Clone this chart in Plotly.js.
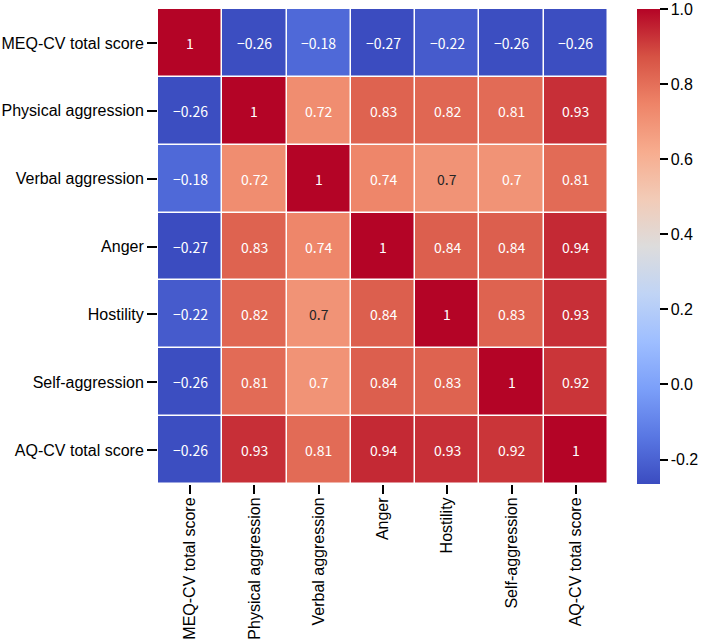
<!DOCTYPE html>
<html>
<head>
<meta charset="utf-8">
<script src="https://cdn.plot.ly/plotly-3.0.1.min.js"></script>
<style>html,body{margin:0;padding:0;background:#fff;}#chart{width:708px;height:642px;}</style>
</head>
<body>
<div id="chart"></div>
<script>
const labels = ["MEQ-CV total score","Physical aggression","Verbal aggression","Anger","Hostility","Self-aggression","AQ-CV total score"];
const row0 = [1, -0.26, -0.18, -0.27, -0.22, -0.26, -0.26];
const row1 = [-0.26, 1, 0.72, 0.83, 0.82, 0.81, 0.93];
const row2 = [-0.18, 0.72, 1, 0.74, 0.70, 0.70, 0.81];
const row3 = [-0.27, 0.83, 0.74, 1, 0.84, 0.84, 0.94];
const row4 = [-0.22, 0.82, 0.70, 0.84, 1, 0.83, 0.93];
const row5 = [-0.26, 0.81, 0.70, 0.84, 0.83, 1, 0.92];
const row6 = [-0.26, 0.93, 0.81, 0.94, 0.93, 0.92, 1];
const z = [row0,row1,row2,row3,row4,row5,row6];
// cells whose annotation is drawn in dark text (lightest cells)
const darkCells = [[2,4],[4,2]];

const coolwarm = ["#3b4cc0","#5977e3","#7b9ff9","#9ebeff","#c0d4f5","#dddcdc","#f2cbb7","#f7ac8e","#ee8468","#d65244","#b40426"];
const cs = coolwarm.map((c,i)=>[i/(coolwarm.length-1), c]);

function fmt(v){
  let s = String(Math.round(v*100)/100);
  return s.replace("-", "\u2212");
}
const annotations = [];
for (let i=0;i<labels.length;i++){
  for (let j=0;j<labels.length;j++){
    const dark = darkCells.some(d=>d[0]===i&&d[1]===j);
    annotations.push({x:labels[j], y:labels[i], text:fmt(z[i][j]), showarrow:false,
      font:{family:"Noto Sans CJK SC, sans-serif", size:14, color: dark ? "#262626" : "#ffffff"}});
  }
}

const trace = {
  type:"heatmap", z:z, x:labels, y:labels, colorscale:cs, zmin:-0.265, zmax:1.0,
  xgap:1.5, ygap:1.5, hoverinfo:"none",
  colorbar:{x:1.0655, xanchor:"left", xref:"paper", xpad:0, ypad:0, y:0.5, yanchor:"middle", len:1, lenmode:"fraction",
    thickness:23, outlinewidth:0, ticks:"outside", ticklen:8, tickwidth:2, tickcolor:"#000",
    ticklabeloverflow:"allow",
    tickvals:[-0.2,0,0.2,0.4,0.6,0.8,1.0], ticktext:["-0.2","0.0","0.2","0.4","0.6","0.8","1.0"],
    tickfont:{family:"Liberation Sans, Arial, sans-serif", size:16, color:"#000"}}
};
const layout = {
  width:708, height:642, margin:{l:158, r:92, t:9, b:158},
  paper_bgcolor:"#fff", plot_bgcolor:"#fff",
  xaxis:{tickangle:-90, ticks:"outside", ticklen:9, tickwidth:2, tickcolor:"#000", showgrid:false, zeroline:false,
    ticklabelstandoff:-3,
    tickfont:{family:"Liberation Sans, Arial, sans-serif", size:16, color:"#000"}, showline:false},
  yaxis:{autorange:"reversed", ticks:"outside", ticklen:10, tickwidth:2, tickcolor:"#000", showgrid:false, zeroline:false,
    tickfont:{family:"Liberation Sans, Arial, sans-serif", size:16, color:"#000"}, showline:false},
  annotations:annotations
};
Plotly.newPlot("chart",[trace],layout,{displayModeBar:false, staticPlot:true});
</script>
</body>
</html>
